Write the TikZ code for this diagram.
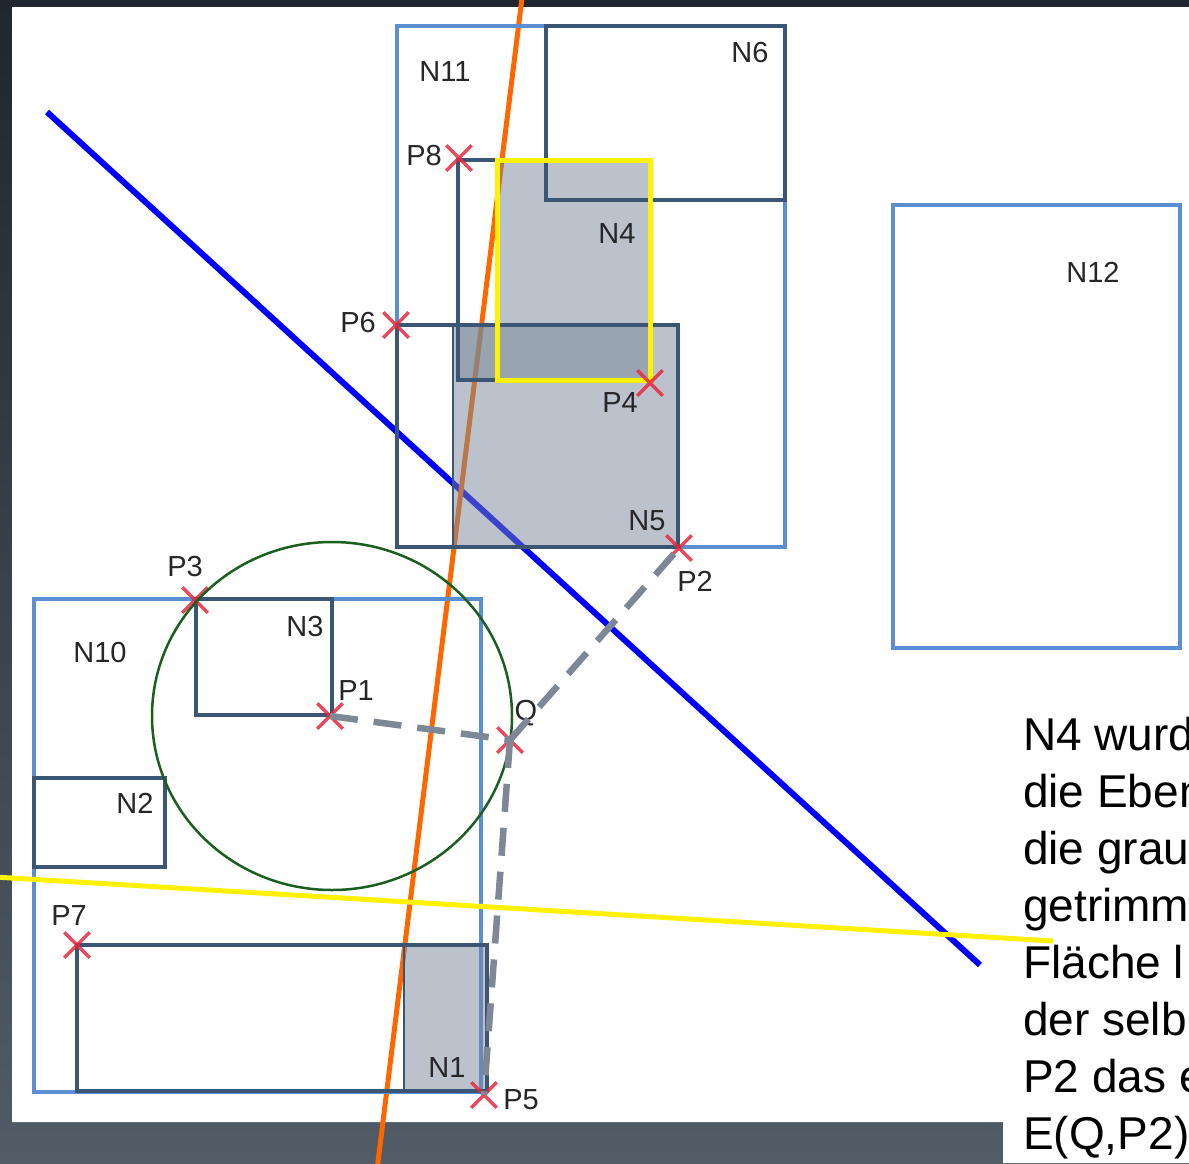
\documentclass[tikz,border=0pt]{standalone}
\usepackage{fontspec}
\setmainfont{Liberation Sans}
\usetikzlibrary{shapes.misc}
\definecolor{rahmenblau}{HTML}{5B8ED3}
\definecolor{rahmendunkel}{HTML}{3B5575}
\definecolor{flaeche}{HTML}{798799}
\definecolor{kreuzrot}{HTML}{E8283C}
\definecolor{strichgrau}{HTML}{7D8796}
\definecolor{kreisgruen}{HTML}{1B5E20}
\definecolor{hgoben}{HTML}{20262D}
\definecolor{hgunten}{HTML}{525C66}
\definecolor{ebeneorange}{HTML}{FF6600}
\tikzset{
  blaubox/.style={draw=rahmenblau, line width=4.5pt},
  dunkelbox/.style={draw=rahmendunkel, line width=3.5pt},
  grau/.style={fill=flaeche, fill opacity=0.5},
  kreuz/.style={cross out, draw=kreuzrot, draw opacity=0.85, line width=3.5pt, minimum size=22pt, inner sep=0pt},
  bez/.style={font=\fontsize{29}{29}\selectfont, text=black!85, inner sep=0pt},
  abstand/.style={draw=strichgrau, line width=6.5pt, dash pattern=on 28pt off 16pt},
}
\begin{document}
\begin{tikzpicture}[x=1pt, y=-1pt]
\useasboundingbox (0,0) rectangle (1189,1163);
\clip (0,0) rectangle (1189,1163);
% Hintergrund
\shade[top color=hgoben, bottom color=hgunten] (0,0) rectangle (1189,1163);
\fill[white] (12,7) -- (1189,7) -- (1189,1163) -- (1003,1163) -- (1003,1122) -- (12,1122) -- cycle;
% Ebenen (blau, orange)
\coordinate (b1) at (47,112); \coordinate (b2) at (980,965);
\coordinate (o1) at (523,-10); \coordinate (o2) at (377,1170);
\draw[blue, line width=6pt] (b1) -- (b2);
\draw[ebeneorange, line width=5pt] (o1) -- (o2);
% Knoten
\draw[blaubox] (893,205) rectangle (1180,648);% N12
\draw[blaubox] (397,26) rectangle (785,547);% N11
\draw[blaubox] (34,599) rectangle (481,1092);% N10
\fill[grau] (453,325) rectangle (678,547);
\fill[grau] (497,160) rectangle (650,380);
\fill[grau] (458,325) rectangle (497,380);
\fill[grau] (404,945) rectangle (487,1090);
\draw[dunkelbox] (546,26) rectangle (785,200);% N6
\draw[dunkelbox] (458,160) rectangle (650,380);% N4
\draw[dunkelbox] (397,325) rectangle (678,547);% N5
\draw[rahmendunkel, line width=1.5pt] (453,325) -- (453,547);
\draw[dunkelbox] (196,599) rectangle (332,715);% N3
\draw[dunkelbox] (34,778) rectangle (165,867);% N2
\draw[dunkelbox] (77,945) rectangle (487,1091);% N1
\draw[rahmendunkel, line width=1.5pt] (404,945) -- (404,1090);
\draw[yellow, line width=5pt] (497,160) rectangle (650,380);
% Bezeichnungen
\node[bez] (n11) at (445,72) {N11};
\node[bez] (n6) at (750,53) {N6};
\node[bez] (n4) at (617,234) {N4};
\node[bez] (n5) at (647,521) {N5};
\node[bez] (n12) at (1093,272) {N12};
\node[bez] (n3) at (305,627) {N3};
\node[bez] (n10) at (100,653) {N10};
\node[bez] (n2) at (135,803) {N2};
\node[bez] (n1) at (447,1068) {N1};
% Punkte
\foreach \p/\x/\y in {P8/459/158, P6/396/325, P4/650/383, P2/679/548, P3/195/600, P1/330/716, Q/510/740, P7/77/945, P5/484/1095}
  \node[kreuz] (\p) at (\x,\y) {};
\foreach \p/\x/\y in {P8/424/156, P6/358/323, P4/620/403, P2/695/581, P3/185/567, P1/356/691, Q/526/713, P7/69/916, P5/521/1100}
  \node[bez] (l\p) at (\x,\y) {\p};
% Kreis um P1
\draw[kreisgruen, line width=2.5pt] (P1.center) ++(2,0) ellipse [x radius=180pt, y radius=174pt];
% Abstaende
\draw[abstand] (P1.center) -- (Q.center);
\draw[abstand] (Q.center) -- (P2.center);
\draw[abstand] (Q.center) -- (P5.center);
% Ebene gelb
\coordinate (g1) at (-5,877); \coordinate (g2) at (1053,941);
\draw[yellow, line width=5pt] (g1) -- (g2);
% Text
\foreach \zeile [count=\i] in {N4 wurde, die Ebene, die graue, getrimmt, Fläche l, der selb, P2 das e, {E(Q,P2)}}
  \node[anchor=base west, inner sep=0pt, font=\fontsize{46}{57}\selectfont] (t\i) at (1023,{750+57*(\i-1)}) {\zeile};
\end{tikzpicture}
\end{document}
